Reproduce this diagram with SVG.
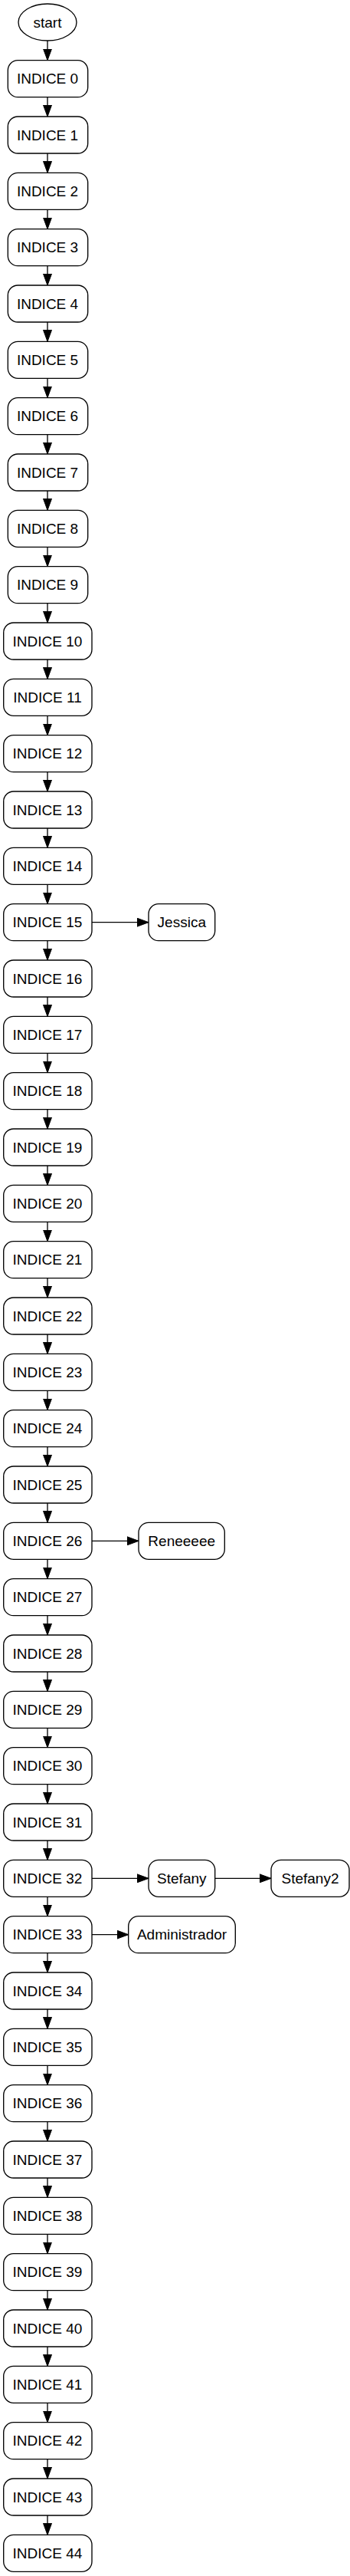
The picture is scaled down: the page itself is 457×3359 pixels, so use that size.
<svg xmlns="http://www.w3.org/2000/svg" width="457" height="3359" viewBox="0 0 457 3359">
<style>
.n{fill:#fff;stroke:#000;stroke-width:1.33}
.t{font-family:"Liberation Sans",Arial,sans-serif;font-size:19px;text-anchor:middle;fill:#000}
.e{stroke:#000;stroke-width:1.33;fill:none;marker-end:url(#a)}
</style>
<defs>
<marker id="a" markerUnits="userSpaceOnUse" markerWidth="16" markerHeight="12" refX="15" refY="6" orient="auto">
<path d="M0,0.5L15,6L0,11.5Z" fill="#000" stroke="#000" stroke-width="1"/>
</marker>
</defs>
<rect width="457" height="3359" fill="#fff"/>
<g id="edges">
<line class="e" x1="62" y1="53" x2="62" y2="78.67"/>
<line class="e" x1="62" y1="126.67" x2="62" y2="152"/>
<line class="e" x1="62" y1="200" x2="62" y2="225.33"/>
<line class="e" x1="62" y1="273.33" x2="62" y2="298.67"/>
<line class="e" x1="62" y1="346.67" x2="62" y2="372"/>
<line class="e" x1="62" y1="420" x2="62" y2="445.33"/>
<line class="e" x1="62" y1="493.33" x2="62" y2="518.67"/>
<line class="e" x1="62" y1="566.67" x2="62" y2="592"/>
<line class="e" x1="62" y1="640" x2="62" y2="665.33"/>
<line class="e" x1="62" y1="713.33" x2="62" y2="738.67"/>
<line class="e" x1="62" y1="786.67" x2="62" y2="812"/>
<line class="e" x1="62" y1="860" x2="62" y2="885.33"/>
<line class="e" x1="62" y1="933.33" x2="62" y2="958.67"/>
<line class="e" x1="62" y1="1006.67" x2="62" y2="1032"/>
<line class="e" x1="62" y1="1080" x2="62" y2="1105.33"/>
<line class="e" x1="62" y1="1153.33" x2="62" y2="1178.67"/>
<line class="e" x1="62" y1="1226.67" x2="62" y2="1252"/>
<line class="e" x1="62" y1="1300" x2="62" y2="1325.33"/>
<line class="e" x1="62" y1="1373.33" x2="62" y2="1398.67"/>
<line class="e" x1="62" y1="1446.67" x2="62" y2="1472"/>
<line class="e" x1="62" y1="1520" x2="62" y2="1545.33"/>
<line class="e" x1="62" y1="1593.33" x2="62" y2="1618.67"/>
<line class="e" x1="62" y1="1666.67" x2="62" y2="1692"/>
<line class="e" x1="62" y1="1740" x2="62" y2="1765.33"/>
<line class="e" x1="62" y1="1813.33" x2="62" y2="1838.67"/>
<line class="e" x1="62" y1="1886.67" x2="62" y2="1912"/>
<line class="e" x1="62" y1="1960" x2="62" y2="1985.33"/>
<line class="e" x1="62" y1="2033.33" x2="62" y2="2058.67"/>
<line class="e" x1="62" y1="2106.67" x2="62" y2="2132"/>
<line class="e" x1="62" y1="2180" x2="62" y2="2205.33"/>
<line class="e" x1="62" y1="2253.33" x2="62" y2="2278.67"/>
<line class="e" x1="62" y1="2326.67" x2="62" y2="2352"/>
<line class="e" x1="62" y1="2400" x2="62" y2="2425.33"/>
<line class="e" x1="62" y1="2473.33" x2="62" y2="2498.67"/>
<line class="e" x1="62" y1="2546.67" x2="62" y2="2572"/>
<line class="e" x1="62" y1="2620" x2="62" y2="2645.33"/>
<line class="e" x1="62" y1="2693.33" x2="62" y2="2718.67"/>
<line class="e" x1="62" y1="2766.67" x2="62" y2="2792"/>
<line class="e" x1="62" y1="2840" x2="62" y2="2865.33"/>
<line class="e" x1="62" y1="2913.33" x2="62" y2="2938.67"/>
<line class="e" x1="62" y1="2986.67" x2="62" y2="3012"/>
<line class="e" x1="62" y1="3060" x2="62" y2="3085.33"/>
<line class="e" x1="62" y1="3133.33" x2="62" y2="3158.67"/>
<line class="e" x1="62" y1="3206.67" x2="62" y2="3232"/>
<line class="e" x1="62" y1="3280" x2="62" y2="3305.33"/>
<line class="e" x1="120" y1="1202.67" x2="194" y2="1202.67"/>
<line class="e" x1="120" y1="2009.33" x2="181" y2="2009.33"/>
<line class="e" x1="120" y1="2449.33" x2="194" y2="2449.33"/>
<line class="e" x1="280.7" y1="2449.33" x2="354" y2="2449.33"/>
<line class="e" x1="120" y1="2522.67" x2="167.7" y2="2522.67"/>
</g>
<g id="start"><ellipse class="n" cx="62" cy="29" rx="38" ry="24"/><text class="t" x="62" y="35.7">start</text></g>
<g id="n0"><rect class="n" x="10.3" y="78.67" width="104.4" height="48" rx="13"/><text class="t" x="62" y="109.4">INDICE 0</text></g>
<g id="n1"><rect class="n" x="10.3" y="152" width="104.4" height="48" rx="13"/><text class="t" x="62" y="182.7">INDICE 1</text></g>
<g id="n2"><rect class="n" x="10.3" y="225.33" width="104.4" height="48" rx="13"/><text class="t" x="62" y="256">INDICE 2</text></g>
<g id="n3"><rect class="n" x="10.3" y="298.67" width="104.4" height="48" rx="13"/><text class="t" x="62" y="329.4">INDICE 3</text></g>
<g id="n4"><rect class="n" x="10.3" y="372" width="104.4" height="48" rx="13"/><text class="t" x="62" y="402.7">INDICE 4</text></g>
<g id="n5"><rect class="n" x="10.3" y="445.33" width="104.4" height="48" rx="13"/><text class="t" x="62" y="476">INDICE 5</text></g>
<g id="n6"><rect class="n" x="10.3" y="518.67" width="104.4" height="48" rx="13"/><text class="t" x="62" y="549.4">INDICE 6</text></g>
<g id="n7"><rect class="n" x="10.3" y="592" width="104.4" height="48" rx="13"/><text class="t" x="62" y="622.7">INDICE 7</text></g>
<g id="n8"><rect class="n" x="10.3" y="665.33" width="104.4" height="48" rx="13"/><text class="t" x="62" y="696">INDICE 8</text></g>
<g id="n9"><rect class="n" x="10.3" y="738.67" width="104.4" height="48" rx="13"/><text class="t" x="62" y="769.4">INDICE 9</text></g>
<g id="n10"><rect class="n" x="4.7" y="812" width="115.3" height="48" rx="13"/><text class="t" x="62" y="842.7">INDICE 10</text></g>
<g id="n11"><rect class="n" x="4.7" y="885.33" width="115.3" height="48" rx="13"/><text class="t" x="62" y="916">INDICE 11</text></g>
<g id="n12"><rect class="n" x="4.7" y="958.67" width="115.3" height="48" rx="13"/><text class="t" x="62" y="989.4">INDICE 12</text></g>
<g id="n13"><rect class="n" x="4.7" y="1032" width="115.3" height="48" rx="13"/><text class="t" x="62" y="1062.7">INDICE 13</text></g>
<g id="n14"><rect class="n" x="4.7" y="1105.33" width="115.3" height="48" rx="13"/><text class="t" x="62" y="1136">INDICE 14</text></g>
<g id="n15"><rect class="n" x="4.7" y="1178.67" width="115.3" height="48" rx="13"/><text class="t" x="62" y="1209.4">INDICE 15</text></g>
<g id="n16"><rect class="n" x="4.7" y="1252" width="115.3" height="48" rx="13"/><text class="t" x="62" y="1282.7">INDICE 16</text></g>
<g id="n17"><rect class="n" x="4.7" y="1325.33" width="115.3" height="48" rx="13"/><text class="t" x="62" y="1356">INDICE 17</text></g>
<g id="n18"><rect class="n" x="4.7" y="1398.67" width="115.3" height="48" rx="13"/><text class="t" x="62" y="1429.4">INDICE 18</text></g>
<g id="n19"><rect class="n" x="4.7" y="1472" width="115.3" height="48" rx="13"/><text class="t" x="62" y="1502.7">INDICE 19</text></g>
<g id="n20"><rect class="n" x="4.7" y="1545.33" width="115.3" height="48" rx="13"/><text class="t" x="62" y="1576">INDICE 20</text></g>
<g id="n21"><rect class="n" x="4.7" y="1618.67" width="115.3" height="48" rx="13"/><text class="t" x="62" y="1649.4">INDICE 21</text></g>
<g id="n22"><rect class="n" x="4.7" y="1692" width="115.3" height="48" rx="13"/><text class="t" x="62" y="1722.7">INDICE 22</text></g>
<g id="n23"><rect class="n" x="4.7" y="1765.33" width="115.3" height="48" rx="13"/><text class="t" x="62" y="1796">INDICE 23</text></g>
<g id="n24"><rect class="n" x="4.7" y="1838.67" width="115.3" height="48" rx="13"/><text class="t" x="62" y="1869.4">INDICE 24</text></g>
<g id="n25"><rect class="n" x="4.7" y="1912" width="115.3" height="48" rx="13"/><text class="t" x="62" y="1942.7">INDICE 25</text></g>
<g id="n26"><rect class="n" x="4.7" y="1985.33" width="115.3" height="48" rx="13"/><text class="t" x="62" y="2016">INDICE 26</text></g>
<g id="n27"><rect class="n" x="4.7" y="2058.67" width="115.3" height="48" rx="13"/><text class="t" x="62" y="2089.4">INDICE 27</text></g>
<g id="n28"><rect class="n" x="4.7" y="2132" width="115.3" height="48" rx="13"/><text class="t" x="62" y="2162.7">INDICE 28</text></g>
<g id="n29"><rect class="n" x="4.7" y="2205.33" width="115.3" height="48" rx="13"/><text class="t" x="62" y="2236">INDICE 29</text></g>
<g id="n30"><rect class="n" x="4.7" y="2278.67" width="115.3" height="48" rx="13"/><text class="t" x="62" y="2309.4">INDICE 30</text></g>
<g id="n31"><rect class="n" x="4.7" y="2352" width="115.3" height="48" rx="13"/><text class="t" x="62" y="2382.7">INDICE 31</text></g>
<g id="n32"><rect class="n" x="4.7" y="2425.33" width="115.3" height="48" rx="13"/><text class="t" x="62" y="2456">INDICE 32</text></g>
<g id="n33"><rect class="n" x="4.7" y="2498.67" width="115.3" height="48" rx="13"/><text class="t" x="62" y="2529.4">INDICE 33</text></g>
<g id="n34"><rect class="n" x="4.7" y="2572" width="115.3" height="48" rx="13"/><text class="t" x="62" y="2602.7">INDICE 34</text></g>
<g id="n35"><rect class="n" x="4.7" y="2645.33" width="115.3" height="48" rx="13"/><text class="t" x="62" y="2676">INDICE 35</text></g>
<g id="n36"><rect class="n" x="4.7" y="2718.67" width="115.3" height="48" rx="13"/><text class="t" x="62" y="2749.4">INDICE 36</text></g>
<g id="n37"><rect class="n" x="4.7" y="2792" width="115.3" height="48" rx="13"/><text class="t" x="62" y="2822.7">INDICE 37</text></g>
<g id="n38"><rect class="n" x="4.7" y="2865.33" width="115.3" height="48" rx="13"/><text class="t" x="62" y="2896">INDICE 38</text></g>
<g id="n39"><rect class="n" x="4.7" y="2938.67" width="115.3" height="48" rx="13"/><text class="t" x="62" y="2969.4">INDICE 39</text></g>
<g id="n40"><rect class="n" x="4.7" y="3012" width="115.3" height="48" rx="13"/><text class="t" x="62" y="3042.7">INDICE 40</text></g>
<g id="n41"><rect class="n" x="4.7" y="3085.33" width="115.3" height="48" rx="13"/><text class="t" x="62" y="3116">INDICE 41</text></g>
<g id="n42"><rect class="n" x="4.7" y="3158.67" width="115.3" height="48" rx="13"/><text class="t" x="62" y="3189.4">INDICE 42</text></g>
<g id="n43"><rect class="n" x="4.7" y="3232" width="115.3" height="48" rx="13"/><text class="t" x="62" y="3262.7">INDICE 43</text></g>
<g id="n44"><rect class="n" x="4.7" y="3305.33" width="115.3" height="48" rx="13"/><text class="t" x="62" y="3336">INDICE 44</text></g>
<g id="jessica"><rect class="n" x="194" y="1178.67" width="86.7" height="48" rx="13"/><text class="t" x="237.3" y="1209.4">Jessica</text></g>
<g id="reneeeee"><rect class="n" x="181" y="1985.33" width="112.3" height="48" rx="13"/><text class="t" x="237.2" y="2016">Reneeeee</text></g>
<g id="stefany"><rect class="n" x="194" y="2425.33" width="86.7" height="48" rx="13"/><text class="t" x="237.3" y="2456">Stefany</text></g>
<g id="stefany2"><rect class="n" x="354" y="2425.33" width="102" height="48" rx="13"/><text class="t" x="405" y="2456">Stefany2</text></g>
<g id="administrador"><rect class="n" x="167.7" y="2498.67" width="139.6" height="48" rx="13"/><text class="t" x="237.5" y="2529.4">Administrador</text></g>
</svg>
